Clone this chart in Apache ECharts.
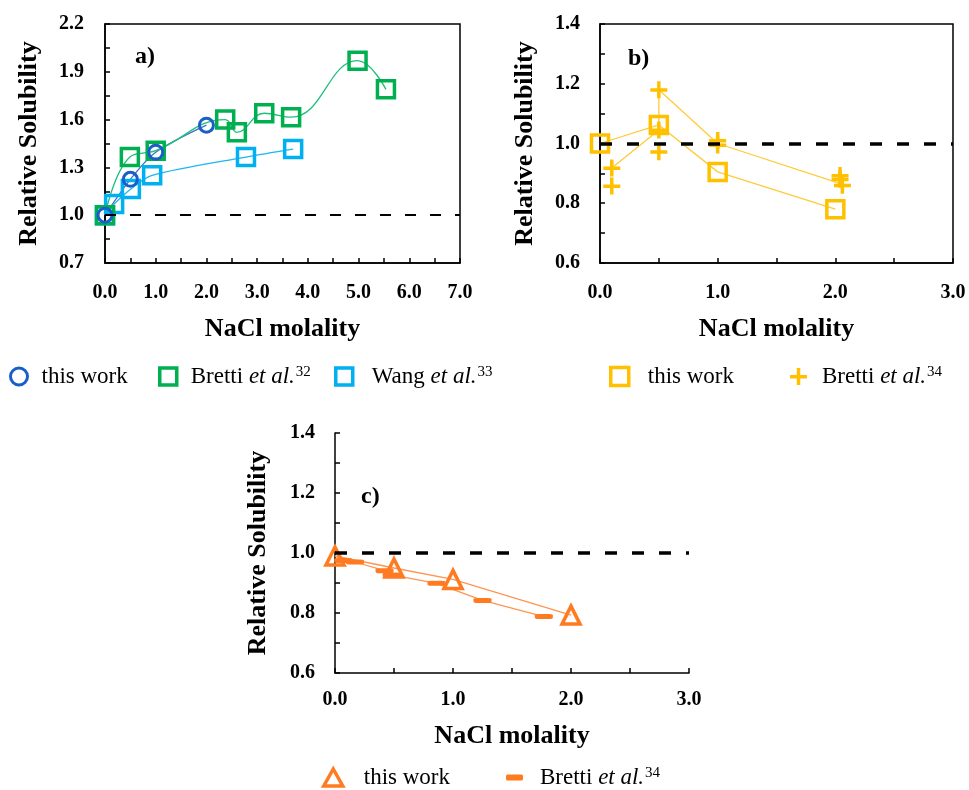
<!DOCTYPE html>
<html><head><meta charset="utf-8">
<script src="https://cdn.jsdelivr.net/npm/echarts@6/dist/echarts.min.js"></script>
<style>html,body{margin:0;padding:0;background:#fff}#c{width:969px;height:790px}</style>
</head><body><div id="c"></div>
<script>
// reference level
const refLevel = 1.0;
// panel a) [NaCl molality, relative solubility]
const aThisWork = [[0,1.0],[0.5,1.225],[1.0,1.395],[2.0,1.565]];
const aBretti32 = [[0,1.0],[0.49,1.365],[1.0,1.405],[2.37,1.60],[2.6,1.52],[3.14,1.64],[3.67,1.615],[4.98,1.97],[5.54,1.79]];
const aWang33 = [[0,1.0],[0.18,1.07],[0.51,1.165],[0.93,1.25],[2.78,1.365],[3.71,1.415]];
// panel b)
const bThisWork = [[0,1.0],[0.5,1.062],[1.0,0.905],[2.0,0.78]];
const bBretti34 = [[0.1,0.918],[0.1,0.858],[0.5,1.18],[0.5,1.045],[0.5,0.972],[1.0,1.01],[1.0,0.995],[2.04,0.893],[2.06,0.86],[2.04,0.88]];
const bBretti34Line = [[0.1,0.918],[0.5,1.045],[0.5,1.18],[1.0,1.0],[2.05,0.865]];
// panel c)
const cThisWork = [[0,0.99],[0.5,0.95],[1.0,0.912],[2.0,0.793]];
const cBretti34 = [[0.07,0.975],[0.17,0.97],[0.42,0.941],[0.48,0.927],[0.86,0.899],[1.25,0.842],[1.77,0.788]];
const cBretti34Line = [[0,0.99],[0.07,0.975],[0.17,0.97],[0.42,0.941],[0.48,0.927],[0.86,0.899],[1.25,0.842],[1.77,0.788]];
// axis ranges
const aX = [0, 7, 1], aY = [0.7, 2.2, 0.3];
const bX = [0, 3, 1], bY = [0.6, 1.4, 0.2];
const cX = [0, 3, 1], cY = [0.6, 1.4, 0.2];
const xTitle = 'NaCl molality', yTitle = 'Relative Solubility';

const SERIF = "'Liberation Serif','Times New Roman',serif";
const C = {blue:'#1a5fc8', blueL:'#3d74cc', green:'#00b050', greenL:'#1dbf7c', sky:'#00b0f0', skyL:'#1ab8f2',
  yellow:'#ffc000', yellowL:'#ffcb3a', orange:'#ff7b22', orangeL:'#ff9550'};
const PLUS = 'path://M0,7 L17,7 L17,10.5 L0,10.5 Z M6.75,0 L10.25,0 L10.25,17 L6.75,17 Z';

function xAxis(g, r, gap, margin) {
  return {type:'value', gridIndex:g, min:r[0], max:r[1], interval:r[2],
    name:xTitle, nameLocation:'middle', nameGap:gap,
    nameTextStyle:{fontFamily:SERIF, fontWeight:'bold', fontSize:26, color:'#000'},
    axisLine:{show:true, onZero:false, lineStyle:{color:'#000', width:1.5}},
    axisTick:{show:true, inside:true, length:5, lineStyle:{color:'#000', width:1.5}},
    minorTick:{show:true, splitNumber:2, length:5, lineStyle:{color:'#000', width:1.5}},
    splitLine:{show:false},
    axisLabel:{margin:margin, fontFamily:SERIF, fontWeight:'bold', fontSize:20, color:'#000',
      formatter:v=>v.toFixed(1)}};
}
function yAxis(g, r, gap, margin) {
  return {type:'value', gridIndex:g, min:r[0], max:r[1], interval:r[2],
    name:yTitle, nameLocation:'middle', nameGap:gap,
    nameTextStyle:{fontFamily:SERIF, fontWeight:'bold', fontSize:26, color:'#000'},
    axisLine:{show:true, onZero:false, lineStyle:{color:'#000', width:1.5}},
    axisTick:{show:true, inside:true, length:5, lineStyle:{color:'#000', width:1.5}},
    minorTick:{show:true, splitNumber:2, length:5, lineStyle:{color:'#000', width:1.5}},
    splitLine:{show:false},
    axisLabel:{margin:margin, fontFamily:SERIF, fontWeight:'bold', fontSize:20, color:'#000',
      formatter:v=>v.toFixed(1)}};
}
function refLine(width, dash) {
  return {silent:true, symbol:'none', animation:false, label:{show:false},
    lineStyle:{color:'#000', type:dash, width:width, opacity:1}, emphasis:{disabled:true},
    data:[{yAxis:refLevel}]};
}
function line(name, g, data, color, smooth, extra) {
  return Object.assign({type:'line', name:name, xAxisIndex:g, yAxisIndex:g, data:data,
    symbol:'none', smooth:smooth, lineStyle:{color:color, width:1.3, opacity:1}, z:2, silent:true}, extra||{});
}
function pts(name, g, data, symbol, size, color, hollow, bw) {
  return {type:'scatter', name:name, xAxisIndex:g, yAxisIndex:g, data:data,
    symbol:symbol, symbolSize:size, z:3, silent:true,
    itemStyle: hollow ? {color:'rgba(255,255,255,0)', borderColor:color, borderWidth:bw, opacity:1}
                      : {color:color, borderWidth:0, opacity:1}};
}

const legendText = {
  aThis:'this work', aBretti:'Bretti {i|et al.}{s|32}', aWang:'Wang {i|et al.}{s|33}',
  bThis:'this work', bBretti:'Bretti {i|et al.}{s|34}',
  cThis:'this work', cBretti:'Bretti {i|et al.}{s|34}'
};
function leg(name, left, top, icon, w, h, style, pad) {
  return {data:[{name:name, icon:icon, itemStyle:style}], left:left, top:top,
    itemWidth:w, itemHeight:h, selectedMode:false, padding:0,
    formatter:n=>legendText[n],
    textStyle:{fontFamily:SERIF, fontSize:23, color:'#000', padding:[0,0,0,pad],
      rich:{i:{fontFamily:SERIF, fontSize:23, fontStyle:'italic', color:'#000'},
            s:{fontFamily:SERIF, fontSize:15, color:'#000', verticalAlign:'top', padding:[0,0,0,1]}}}};
}
const hollow = (c, bw) => ({color:'rgba(255,255,255,0)', borderColor:c, borderWidth:bw, opacity:1});

const chart = echarts.init(document.getElementById('c'), null, {renderer:'canvas'});
chart.setOption({
  animation:false,
  backgroundColor:'#fff',
  title:[
    {text:'a)', left:130, top:40, textStyle:{fontFamily:SERIF, fontWeight:'bold', fontSize:24, color:'#000'}},
    {text:'b)', left:623, top:42, textStyle:{fontFamily:SERIF, fontWeight:'bold', fontSize:24, color:'#000'}},
    {text:'c)', left:356, top:480, textStyle:{fontFamily:SERIF, fontWeight:'bold', fontSize:24, color:'#000'}}
  ],
  grid:[
    {left:105, top:24, width:355, height:239, show:true, borderColor:'#000', borderWidth:1.5},
    {left:600, top:24, width:353, height:239, show:true, borderColor:'#000', borderWidth:1.5},
    {left:335, top:433, width:354, height:240}
  ],
  xAxis:[xAxis(0, aX, 53, 20), xAxis(1, bX, 53, 20), xAxis(2, cX, 50, 17)],
  yAxis:[yAxis(0, aY, 63, 21), yAxis(1, bY, 62, 20), yAxis(2, cY, 64, 20)],
  legend:[
    leg('aThis', 9, 365, 'circle', 17, 17, hollow(C.blue, 3), 9),
    leg('aBretti', 158, 365, 'rect', 17, 17, hollow(C.green, 3.5), 9),
    leg('aWang', 334, 365, 'rect', 17, 17, hollow(C.sky, 3.5), 14),
    leg('bThis', 609, 365, 'rect', 18, 18, hollow(C.yellow, 3.5), 14),
    leg('bBretti', 790, 365, PLUS, 17, 17, {color:C.yellow, borderWidth:0, opacity:1}, 10),
    leg('cThis', 322, 766, 'triangle', 19, 17, hollow(C.orange, 3.5), 16),
    leg('cBretti', 506, 766, 'roundRect', 17, 6, {color:C.orange, borderWidth:0, opacity:1}, 12)
  ],
  series:[
    // panel a
    line('aThisL', 0, aThisWork, C.blueL, 0.3, {markLine:refLine(2, [11,14])}),
    line('aBrettiL', 0, aBretti32, C.greenL, 0.45),
    line('aWangL', 0, aWang33, C.skyL, 0.3),
    pts('aWang', 0, aWang33, 'rect', 17, C.sky, true, 3.5),
    pts('aBretti', 0, aBretti32, 'rect', 17, C.green, true, 3.5),
    pts('aThis', 0, aThisWork, 'circle', 14, C.blue, true, 3),
    // panel b
    line('bThisL', 1, bThisWork, C.yellowL, false, {markLine:refLine(3.5, [12,15])}),
    line('bBrettiL', 1, bBretti34Line, C.yellowL, false),
    pts('bThis', 1, bThisWork, 'rect', 17, C.yellow, true, 3.5),
    pts('bBretti', 1, bBretti34, PLUS, 17, C.yellow, false, 0),
    // panel c
    line('cThisL', 2, cThisWork, C.orangeL, false, {markLine:refLine(3.5, [12,15])}),
    line('cBrettiL', 2, cBretti34Line, C.orangeL, false),
    pts('cBretti', 2, cBretti34, 'roundRect', [18,5], C.orange, false, 0),
    pts('cThis', 2, cThisWork, 'triangle', 18, C.orange, true, 3.5)
  ]
});
</script></body></html>
